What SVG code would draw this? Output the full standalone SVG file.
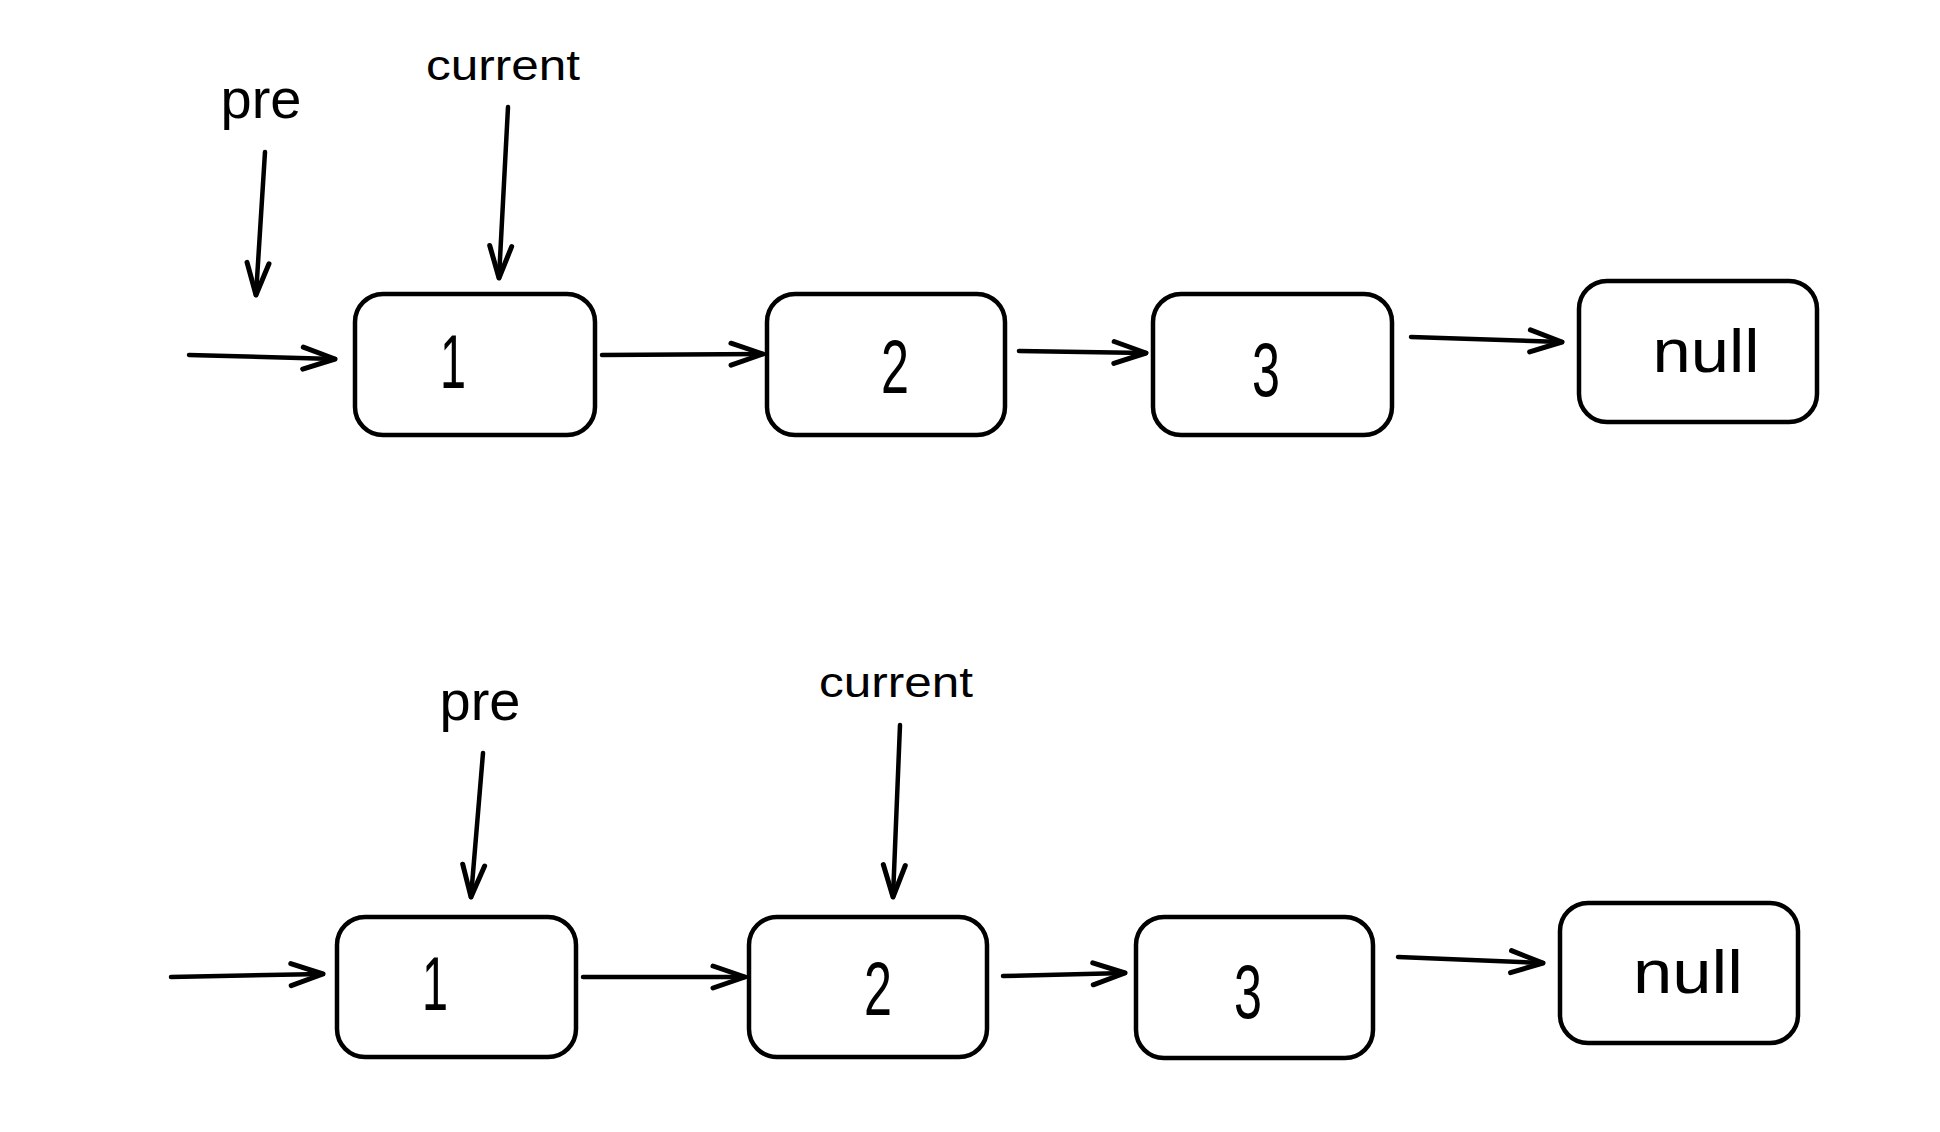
<svg xmlns="http://www.w3.org/2000/svg" width="1940" height="1132" viewBox="0 0 1940 1132">
<style>
.box{fill:#fff;stroke:#000;stroke-width:4.5;}
.conn{fill:none;stroke:#000;stroke-width:4.5;stroke-linecap:round;marker-end:url(#arr);}
.lbl{font-family:"Liberation Sans",Arial,sans-serif;fill:#000;text-anchor:middle;}
.num{font-size:76px;}
.ptr{font-size:56px;}
.cur{font-size:42px;}
.nul{font-size:62px;}
</style>
<defs>
<marker id="arr" markerUnits="userSpaceOnUse" viewBox="-40 -16 44 32" markerWidth="44" markerHeight="32" refX="0" refY="0" orient="auto" overflow="visible">
<path d="M-32 -11 L0 0 L-32 11" fill="none" stroke="#000" stroke-width="5" stroke-linecap="round" stroke-linejoin="round"/>
</marker>
</defs>
<rect width="1940" height="1132" fill="#fff"/>

<g id="connectors">
<path class="conn" d="M189 355 L335 359"/>
<path class="conn" d="M602 355 L763 354"/>
<path class="conn" d="M1019 351 L1146 353"/>
<path class="conn" d="M1411 337 L1562 342"/>
<path class="conn" d="M265 152 L256 295"/>
<path class="conn" d="M508 107 L499 278"/>
<path class="conn" d="M171 977 L323 974"/>
<path class="conn" d="M583 977 L745 977"/>
<path class="conn" d="M1003 976 L1125 973"/>
<path class="conn" d="M1398 957 L1543 963"/>
<path class="conn" d="M483 753 L471 897"/>
<path class="conn" d="M900 725 L893 897"/>
</g>

<g id="top-node-1"><rect class="box" x="355" y="294" width="240" height="141" rx="28"/><text class="lbl num" x="453" y="388" textLength="26" lengthAdjust="spacingAndGlyphs">1</text></g>
<g id="top-node-2"><rect class="box" x="767" y="294" width="238" height="141" rx="28"/><text class="lbl num" x="895" y="393" textLength="28" lengthAdjust="spacingAndGlyphs">2</text></g>
<g id="top-node-3"><rect class="box" x="1153" y="294" width="239" height="141" rx="28"/><text class="lbl num" x="1266" y="396" textLength="28" lengthAdjust="spacingAndGlyphs">3</text></g>
<g id="top-node-null"><rect class="box" x="1579" y="281" width="238" height="141" rx="28"/><text class="lbl nul" x="1706" y="372" textLength="107" lengthAdjust="spacingAndGlyphs">null</text></g>
<g id="top-label-pre"><text class="lbl ptr" x="261" y="118">pre</text></g>
<g id="top-label-current"><text class="lbl cur" x="503" y="80" textLength="154" lengthAdjust="spacingAndGlyphs">current</text></g>

<g id="bottom-node-1"><rect class="box" x="337" y="917" width="239" height="140" rx="28"/><text class="lbl num" x="435" y="1010" textLength="26" lengthAdjust="spacingAndGlyphs">1</text></g>
<g id="bottom-node-2"><rect class="box" x="749" y="917" width="238" height="140" rx="28"/><text class="lbl num" x="878" y="1015" textLength="28" lengthAdjust="spacingAndGlyphs">2</text></g>
<g id="bottom-node-3"><rect class="box" x="1136" y="917" width="237" height="141" rx="28"/><text class="lbl num" x="1248" y="1018" textLength="28" lengthAdjust="spacingAndGlyphs">3</text></g>
<g id="bottom-node-null"><rect class="box" x="1560" y="903" width="238" height="140" rx="28"/><text class="lbl nul" x="1688" y="993" textLength="110" lengthAdjust="spacingAndGlyphs">null</text></g>
<g id="bottom-label-pre"><text class="lbl ptr" x="480" y="720">pre</text></g>
<g id="bottom-label-current"><text class="lbl cur" x="896" y="697" textLength="154" lengthAdjust="spacingAndGlyphs">current</text></g>
</svg>
